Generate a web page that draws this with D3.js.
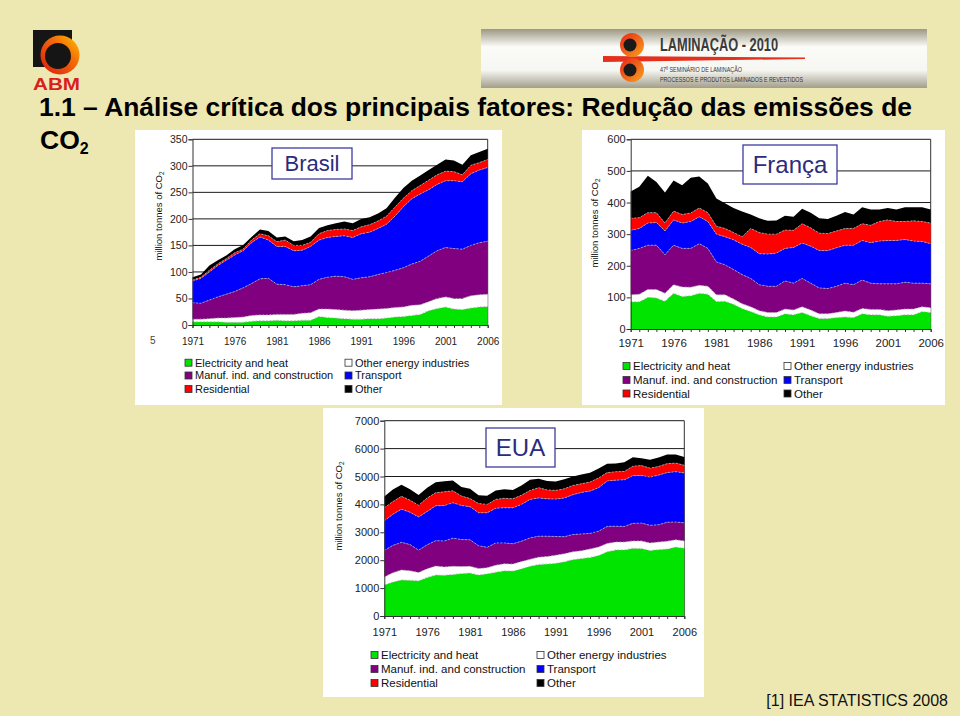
<!DOCTYPE html>
<html>
<head>
<meta charset="utf-8">
<script src="https://cdn.jsdelivr.net/npm/d3@7"></script>
<style>
  body { margin: 0; background: #ede7b2; }
  svg { display: block; font-family: "Liberation Sans", Arial, sans-serif; }
</style>
</head>
<body>
<svg id="slide" width="960" height="716"></svg>
<script>
// Years on the x axis
const years = [1971, 1972, 1973, 1974, 1975, 1976, 1977, 1978, 1979, 1980,
  1981, 1982, 1983, 1984, 1985, 1986, 1987, 1988, 1989, 1990,
  1991, 1992, 1993, 1994, 1995, 1996, 1997, 1998, 1999, 2000,
  2001, 2002, 2003, 2004, 2005, 2006];
const xLabels = [1971, 1976, 1981, 1986, 1991, 1996, 2001, 2006];

const sectors = ["Electricity and heat", "Other energy industries", "Manuf. ind. and construction",
  "Transport", "Residential", "Other"];
const keys = ["elec", "energy", "manuf", "transport", "resid", "other"];

// Brasil (million tonnes of CO2)
const brElec      = [6, 6, 6, 6, 5, 5, 5, 7, 8, 8, 9, 8, 8, 9, 9, 16, 14, 13, 12, 11, 11, 12, 12, 13, 15, 16, 18, 20, 27, 31, 34, 30, 29, 32, 34, 35];
const brEnergy    = [5, 5, 6, 7, 8, 9, 10, 11, 11, 11, 11, 12, 12, 13, 14, 14, 16, 16, 16, 16, 17, 17, 18, 18, 18, 18, 19, 18, 17, 19, 19, 20, 21, 23, 23, 23];
const brManuf     = [31, 30, 35, 40, 45, 49, 55, 60, 68, 69, 57, 56, 52, 52, 53, 56, 60, 63, 63, 59, 61, 62, 65, 68, 70, 74, 78, 82, 86, 90, 93, 94, 93, 95, 98, 100];
const brTransport = [41, 47, 53, 59, 64, 69, 70, 77, 79, 72, 71, 72, 68, 67, 72, 74, 75, 75, 77, 79, 83, 84, 87, 91, 102, 115, 123, 127, 125, 125, 126, 128, 127, 135, 137, 139];
const brResid     = [2, 2, 3, 3, 3, 4, 3, 5, 6, 8, 9, 12, 10, 9, 8, 12, 13, 13, 13, 13, 13, 14, 14, 15, 17, 16, 15, 16, 18, 18, 18, 17, 13, 16, 14, 15];
const brOther     = [5, 5, 9, 7, 6, 7, 8, 6, 8, 9, 8, 7, 8, 10, 11, 11, 10, 12, 14, 14, 15, 14, 14, 15, 18, 19, 19, 19, 19, 19, 22, 21, 19, 19, 20, 20];

// França
const frElec      = [86, 86, 100, 98, 88, 113, 103, 105, 113, 110, 87, 88, 78, 65, 55, 45, 38, 38, 48, 45, 52, 42, 33, 33, 36, 38, 36, 48, 45, 45, 40, 42, 45, 45, 55, 52];
const frEnergy    = [22, 24, 25, 27, 25, 27, 30, 27, 25, 25, 21, 20, 17, 15, 15, 13, 14, 14, 15, 15, 18, 18, 15, 15, 16, 19, 17, 17, 17, 17, 18, 18, 18, 18, 15, 15];
const frManuf     = [140, 145, 140, 140, 122, 125, 122, 123, 132, 120, 104, 95, 93, 92, 90, 82, 83, 83, 89, 85, 90, 85, 82, 80, 83, 88, 87, 90, 83, 81, 85, 83, 85, 82, 75, 76];
const frTransport = [64, 63, 70, 72, 75, 80, 80, 85, 85, 85, 88, 89, 94, 96, 98, 98, 102, 105, 103, 113, 112, 117, 118, 120, 122, 120, 125, 125, 128, 135, 137, 137, 135, 133, 132, 127];
const frResid     = [38, 34, 33, 31, 25, 28, 27, 27, 28, 28, 25, 26, 23, 24, 60, 67, 63, 60, 58, 54, 61, 58, 55, 54, 53, 53, 53, 53, 55, 62, 65, 60, 57, 64, 63, 65];
const frOther     = [85, 98, 117, 97, 97, 97, 93, 111, 99, 92, 88, 80, 78, 80, 44, 45, 42, 43, 45, 43, 47, 48, 47, 46, 48, 52, 44, 52, 50, 38, 38, 38, 45, 43, 45, 43];

// EUA
const usElec      = [1110, 1220, 1290, 1280, 1260, 1380, 1470, 1460, 1490, 1520, 1540, 1470, 1510, 1570, 1620, 1610, 1690, 1780, 1850, 1860, 1890, 1940, 2020, 2060, 2100, 2170, 2300, 2370, 2370, 2430, 2420, 2350, 2380, 2400, 2470, 2430];
const usEnergy    = [290, 330, 360, 340, 300, 310, 320, 300, 290, 250, 240, 230, 220, 250, 250, 250, 260, 250, 260, 270, 290, 290, 280, 280, 300, 300, 300, 280, 280, 260, 270, 270, 270, 280, 260, 260];
const usManuf     = [950, 980, 990, 940, 800, 860, 910, 930, 1010, 970, 950, 820, 730, 800, 750, 730, 730, 770, 750, 730, 670, 610, 620, 600, 560, 570, 610, 570, 560, 630, 640, 630, 620, 680, 640, 650];
const usTransport = [1060, 1120, 1190, 1160, 1190, 1200, 1250, 1270, 1270, 1220, 1190, 1180, 1240, 1240, 1260, 1290, 1320, 1380, 1370, 1340, 1340, 1390, 1430, 1490, 1520, 1560, 1630, 1650, 1670, 1710, 1710, 1730, 1780, 1780, 1800, 1790];
const usResid     = [470, 450, 460, 430, 420, 480, 470, 490, 430, 340, 290, 330, 300, 320, 340, 320, 330, 320, 370, 320, 310, 330, 330, 310, 320, 350, 300, 300, 300, 340, 350, 320, 310, 320, 310, 270];
const usOther     = [400, 430, 410, 390, 370, 370, 370, 380, 370, 320, 350, 300, 310, 320, 320, 320, 350, 380, 320, 320, 320, 340, 320, 330, 330, 340, 320, 300, 330, 320, 260, 300, 320, 330, 310, 300];

const colors = ["#00e400", "#ffffff", "#800080", "#0000ff", "#ff0000", "#000000"];
const legendOrder = [[0, 2, 4], [1, 3, 5]];

const svg = d3.select("#slide");

// Slide header: ABM logo
const defs = svg.append("defs");
const ringGrad = defs.append("linearGradient").attr("id", "ring")
  .attr("x1", "0").attr("y1", "1").attr("x2", "1").attr("y2", "0");
ringGrad.append("stop").attr("offset", "0").attr("stop-color", "#d8180c");
ringGrad.append("stop").attr("offset", "0.6").attr("stop-color", "#f46a0a");
ringGrad.append("stop").attr("offset", "1").attr("stop-color", "#ffc400");

svg.append("rect").attr("x", 33).attr("y", 30).attr("width", 39).attr("height", 37).attr("fill", "#151515");
svg.append("circle").attr("cx", 60).attr("cy", 55).attr("r", 19.5).attr("fill", "url(#ring)");
svg.append("circle").attr("cx", 58).attr("cy", 56).attr("r", 13).attr("fill", "#151515");
svg.append("text").attr("x", 33).attr("y", 90).attr("font-size", 16.5).attr("font-weight", "bold")
  .attr("fill", "#d91e1e").attr("textLength", 47).attr("lengthAdjust", "spacingAndGlyphs").text("ABM");

// Banner
const banGrad = defs.append("linearGradient").attr("id", "banner")
  .attr("x1", "0").attr("y1", "0").attr("x2", "0").attr("y2", "1");
banGrad.append("stop").attr("offset", "0").attr("stop-color", "#9c9884");
banGrad.append("stop").attr("offset", "0.3").attr("stop-color", "#fbfbf8");
banGrad.append("stop").attr("offset", "0.7").attr("stop-color", "#f6f6f2");
banGrad.append("stop").attr("offset", "1").attr("stop-color", "#a29e8a");
svg.append("rect").attr("x", 481).attr("y", 29).attr("width", 446).attr("height", 59).attr("fill", "url(#banner)");

const rollGrad = defs.append("linearGradient").attr("id", "roll")
  .attr("x1", "0").attr("y1", "0").attr("x2", "1").attr("y2", "1");
rollGrad.append("stop").attr("offset", "0").attr("stop-color", "#e8261a");
rollGrad.append("stop").attr("offset", "1").attr("stop-color", "#f7a21b");
svg.append("path").attr("d", "M603,56 L805,57.5 L805,59 L603,62 Z").attr("fill", "#e4301c");
[45, 70].forEach(cy => {
  svg.append("circle").attr("cx", 632).attr("cy", cy).attr("r", 12).attr("fill", "url(#roll)");
  svg.append("circle").attr("cx", 630).attr("cy", cy).attr("r", 6.5).attr("fill", "#1a1a1a");
});
svg.append("text").attr("x", 660).attr("y", 51).attr("font-family", "'Liberation Sans Narrow', 'Liberation Sans', sans-serif")
  .attr("font-size", 19).attr("font-weight", "bold").attr("fill", "#3a3a3a")
  .attr("textLength", 118).attr("lengthAdjust", "spacingAndGlyphs").text("LAMINAÇÃO - 2010");
svg.append("text").attr("x", 660).attr("y", 72).attr("font-family", "'Liberation Sans Narrow', 'Liberation Sans', sans-serif")
  .attr("font-size", 7.5).attr("fill", "#333")
  .attr("textLength", 82).attr("lengthAdjust", "spacingAndGlyphs").text("47º SEMINÁRIO DE LAMINAÇÃO");
svg.append("text").attr("x", 660).attr("y", 82).attr("font-family", "'Liberation Sans Narrow', 'Liberation Sans', sans-serif")
  .attr("font-size", 7.5).attr("fill", "#333")
  .attr("textLength", 143).attr("lengthAdjust", "spacingAndGlyphs").text("PROCESSOS E PRODUTOS LAMINADOS E REVESTIDOS");

// Title
svg.append("text").attr("x", 39).attr("y", 116).attr("font-size", 26.5).attr("font-weight", "bold")
  .attr("fill", "#000").attr("textLength", 873).attr("lengthAdjust", "spacingAndGlyphs")
  .text("1.1 – Análise crítica dos principais fatores: Redução das emissões de");
const co2 = svg.append("text").attr("x", 40).attr("y", 149).attr("font-size", 26.5).attr("font-weight", "bold");
co2.append("tspan").text("CO");
co2.append("tspan").attr("font-size", 16).attr("dy", 5).text("2");

// One stacked area chart
function drawChart(cfg) {
  const g = svg.append("g");
  g.append("rect").attr("x", cfg.panel[0]).attr("y", cfg.panel[1])
    .attr("width", cfg.panel[2]).attr("height", cfg.panel[3]).attr("fill", "#fff");

  const x = d3.scaleLinear().domain([1971, 2006]).range([cfg.left, cfg.right]);
  const y = d3.scaleLinear().domain([0, cfg.max]).range([cfg.bottom, cfg.top]);

  const table = years.map((yr, i) => {
    const row = { year: yr };
    keys.forEach((k, j) => row[k] = cfg.values[j][i]);
    return row;
  });
  const series = d3.stack().keys(keys)(table);

  // Gridlines
  g.append("g").selectAll("line").data(cfg.ticks.filter(t => t > 0)).join("line")
    .attr("x1", cfg.left).attr("x2", cfg.right)
    .attr("y1", d => y(d)).attr("y2", d => y(d))
    .attr("stroke", "#1a1a1a").attr("stroke-width", 1);
  g.append("line").attr("x1", cfg.right).attr("x2", cfg.right)
    .attr("y1", cfg.top).attr("y2", cfg.bottom).attr("stroke", "#333").attr("stroke-width", 1);

  // Areas
  const area = d3.area().x(d => x(d.data.year)).y0(d => y(d[0])).y1(d => y(d[1]));
  g.append("g").selectAll("path").data(series).join("path")
    .attr("d", area).attr("fill", (d, i) => colors[i]);

  // Dotted boundaries between sectors
  const edge = d3.line().x(d => x(d.data.year)).y(d => y(d[1]));
  g.append("g").selectAll("path").data(series.slice(0, 5)).join("path")
    .attr("d", edge).attr("fill", "none").attr("stroke", "#b4b4b4")
    .attr("stroke-width", 0.8).attr("stroke-dasharray", "2,1.5");

  // Axes
  const yAxis = g.append("g").attr("transform", "translate(" + cfg.left + ",0)")
    .call(d3.axisLeft(y).tickValues(cfg.ticks).tickSize(4).tickPadding(1).tickFormat(d3.format("d")));
  yAxis.selectAll("text").attr("font-size", cfg.yFont).attr("fill", "#222")
    .attr("font-family", "'Liberation Sans', Arial, sans-serif");
  yAxis.selectAll("line, path").attr("stroke", "#333");

  const xAxis = g.append("g").attr("transform", "translate(0," + cfg.bottom + ")")
    .call(d3.axisBottom(x).tickValues(years).tickSize(3).tickPadding(cfg.xPad)
      .tickFormat(d => xLabels.includes(d) ? d : ""));
  xAxis.selectAll("text").attr("font-size", cfg.xFont).attr("fill", "#222")
    .attr("font-family", "'Liberation Sans', Arial, sans-serif");
  xAxis.selectAll("line, path").attr("stroke", "#333");

  // Y title
  const yt = g.append("text")
    .attr("transform", "translate(" + cfg.yTitle[0] + "," + cfg.yTitle[1] + ") rotate(-90)")
    .attr("text-anchor", "middle").attr("font-size", 9.5).attr("fill", "#111");
  yt.append("tspan").text("million tonnes of CO");
  yt.append("tspan").attr("font-size", 6.5).attr("dy", 2).text("2");

  // Country label box
  const b = cfg.box;
  g.append("rect").attr("x", b[0]).attr("y", b[1]).attr("width", b[2]).attr("height", b[3])
    .attr("fill", "#fff").attr("stroke", "#3c3ca0").attr("stroke-width", 1.3);
  g.append("text").attr("x", b[0] + b[2] / 2).attr("y", b[1] + b[3] / 2 + cfg.boxFont * 0.36)
    .attr("text-anchor", "middle").attr("font-size", cfg.boxFont).attr("fill", "#2c2c7c")
    .text(cfg.title);

  // Legend
  legendOrder.forEach((col, c) => {
    col.forEach((si, r) => {
      const ly = cfg.legend.rows[r];
      g.append("rect").attr("x", cfg.legend.cols[c]).attr("y", ly - 3.5)
        .attr("width", 7).attr("height", 7).attr("fill", colors[si])
        .attr("stroke", "#333").attr("stroke-width", 0.8);
      g.append("text").attr("x", cfg.legend.cols[c] + 10).attr("y", ly + cfg.legend.font * 0.36)
        .attr("font-size", cfg.legend.font).attr("fill", "#111").text(sectors[si]);
    });
  });
}

drawChart({
  title: "Brasil", panel: [135, 130, 367, 275],
  left: 192.5, right: 487.7, top: 139.3, bottom: 325, max: 350,
  ticks: [0, 50, 100, 150, 200, 250, 300, 350],
  values: [brElec, brEnergy, brManuf, brTransport, brResid, brOther],
  yFont: 10.5, xFont: 10, xPad: 10, yTitle: [162, 216],
  box: [272, 148, 80, 31], boxFont: 22,
  legend: { cols: [185, 345], rows: [362.7, 375.5, 389], font: 11 }
});

drawChart({
  title: "França", panel: [582, 130, 363, 275],
  left: 630.7, right: 930.7, top: 139.3, bottom: 329, max: 600,
  ticks: [0, 100, 200, 300, 400, 500, 600],
  values: [frElec, frEnergy, frManuf, frTransport, frResid, frOther],
  yFont: 11, xFont: 11.5, xPad: 7, yTitle: [598, 223],
  box: [743, 145, 94, 39], boxFont: 24,
  legend: { cols: [623, 784], rows: [366, 380, 393.5], font: 11.5 }
});

drawChart({
  title: "EUA", panel: [323, 408, 381, 289],
  left: 384.3, right: 684.3, top: 420.7, bottom: 616, max: 7000,
  ticks: [0, 1000, 2000, 3000, 4000, 5000, 6000, 7000],
  values: [usElec, usEnergy, usManuf, usTransport, usResid, usOther],
  yFont: 11, xFont: 11, xPad: 9, yTitle: [342, 506],
  box: [486, 428, 69, 39], boxFont: 24,
  legend: { cols: [371, 537], rows: [655, 669, 683], font: 11.5 }
});

// Clipped tick remnant left of Brasil axis
svg.append("text").attr("x", 150).attr("y", 344).attr("font-size", 10).attr("fill", "#444").text("5");

// Source
svg.append("text").attr("x", 948).attr("y", 706).attr("text-anchor", "end")
  .attr("font-size", 16).attr("fill", "#111").text("[1] IEA STATISTICS 2008");
</script>
</body>
</html>
